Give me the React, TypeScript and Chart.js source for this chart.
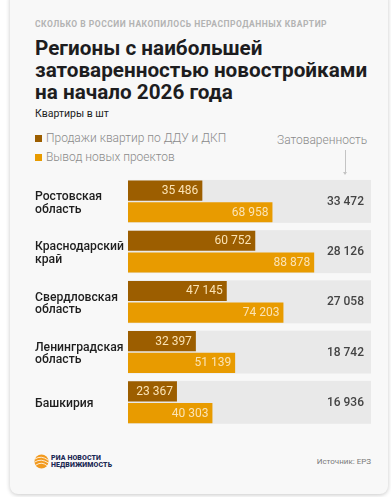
import React, { useEffect, useRef } from "react";
import { Chart, registerables } from "chart.js";

Chart.register(...registerables);

const regions: string[][] = [
  ["Ростовская", "область"],
  ["Краснодарский", "край"],
  ["Свердловская", "область"],
  ["Ленинградская", "область"],
  ["Башкирия"],
];
const sales: number[] = [35486, 60752, 47145, 32397, 23367];
const newProjects: number[] = [68958, 88878, 74203, 51139, 40303];
const overstock: number[] = [33472, 28126, 27058, 18742, 16936];

const seriesNames = ["Продажи квартир по ДДУ и ДКП", "Вывод новых проектов"];
const DARK = "#9c5e00";
const ORANGE = "#e89b00";
const FONT = "Roboto, 'Noto Sans', sans-serif";

const fmt = (v: number) => String(v).replace(/\B(?=(\d{3})+(?!\d))/g, "\u00a0");

const overlayPlugin = {
  id: "overlay",
  beforeDatasetsDraw(chart: any) {
    const { ctx, chartArea } = chart;
    const m0 = chart.getDatasetMeta(0);
    const m1 = chart.getDatasetMeta(1);
    ctx.save();
    ctx.fillStyle = "#e9e9e9";
    m0.data.forEach((bar: any, i: number) => {
      const b1 = m1.data[i];
      const top = bar.y - bar.height / 2 - 0.5;
      const bottom = b1.y + b1.height / 2 + 0.5;
      ctx.fillRect(chartArea.left, top, chartArea.right - chartArea.left, bottom - top);
    });
    ctx.restore();
  },
  afterDatasetsDraw(chart: any) {
    const { ctx, chartArea } = chart;
    ctx.save();
    ctx.textBaseline = "middle";
    [0, 1].forEach((d) => {
      const meta = chart.getDatasetMeta(d);
      const vals = chart.data.datasets[d].data as number[];
      meta.data.forEach((bar: any, i: number) => {
        ctx.font = `400 12px ${FONT}`;
        ctx.fillStyle = "#fbe3b4";
        ctx.textAlign = "right";
        ctx.fillText(fmt(vals[i]), bar.x - 4, bar.y + 0.5);
      });
    });
    const m0 = chart.getDatasetMeta(0);
    const m1 = chart.getDatasetMeta(1);
    overstock.forEach((v, i) => {
      const y = (m0.data[i].y + m1.data[i].y) / 2;
      ctx.font = `500 12px ${FONT}`;
      ctx.fillStyle = "#444444";
      ctx.textAlign = "right";
      ctx.fillText(fmt(v), chartArea.right - 7, y + 0.5);
    });
    ctx.restore();
  },
};

function BarChart() {
  const ref = useRef<HTMLCanvasElement | null>(null);
  useEffect(() => {
    if (!ref.current) return;
    const chart = new Chart(ref.current, {
      type: "bar",
      data: {
        labels: regions,
        datasets: [
          {
            label: seriesNames[0],
            data: sales,
            backgroundColor: DARK,
            categoryPercentage: 0.865,
            barPercentage: 0.93,
          },
          {
            label: seriesNames[1],
            data: newProjects,
            backgroundColor: ORANGE,
            categoryPercentage: 0.865,
            barPercentage: 0.93,
          },
        ],
      },
      options: {
        indexAxis: "y",
        responsive: false,
        animation: false,
        layout: { padding: { left: 25, right: 17, top: 5.5, bottom: 4.5 } },
        plugins: { legend: { display: false }, tooltip: { enabled: false } },
        scales: {
          x: { display: false, min: 0, max: 116000 },
          y: {
            grid: { display: false },
            border: { display: false },
            afterFit: (scale: any) => {
              scale.width = 93;
            },
            ticks: {
              crossAlign: "far",
              padding: 0,
              labelOffset: 2,
              color: "#1e1e1e",
              font: { family: FONT, size: 12.2, weight: "500", lineHeight: 1.03 },
            },
          },
        },
      },
      plugins: [overlayPlugin],
    } as any);
    return () => chart.destroy();
  }, []);
  return (
    <canvas
      ref={ref}
      width={378}
      height={270}
      style={{ position: "absolute", left: 10, top: 170, width: 378, height: 270 }}
    />
  );
}

export default function App() {
  const abs = (o: any) => ({ position: "absolute" as const, whiteSpace: "nowrap" as const, fontFamily: FONT, ...o });
  return (
    <div style={{ position: "fixed", left: 0, top: 0, width: 391, height: 497, background: "#ffffff", overflow: "hidden" }}>
      <div
        style={{
          position: "absolute",
          left: 10,
          top: -10,
          width: 378,
          height: 504,
          background: "#f8f8f8",
          borderRadius: 8,
          boxShadow: "0 1px 4px rgba(0,0,0,0.22)",
        }}
      />
      <div style={abs({ left: 35, top: 19, fontSize: 8.5, fontWeight: 700, color: "#b3b3b3", letterSpacing: 0.5, lineHeight: "10px" })}>
        СКОЛЬКО В РОССИИ НАКОПИЛОСЬ НЕРАСПРОДАННЫХ КВАРТИР
      </div>
      <div style={abs({ left: 35, top: 37, fontSize: 20.7, fontWeight: 700, color: "#1d1d1f", lineHeight: "22px" })}>
        Регионы с наибольшей
        <br />
        затоваренностью новостройками
        <br />
        на начало 2026 года
      </div>
      <div style={abs({ left: 35, top: 108, fontSize: 10.5, color: "#222", lineHeight: "12px" })}>Квартиры в шт</div>
      <div style={abs({ left: 35, top: 135, width: 7, height: 7, background: DARK })} />
      <div style={abs({ left: 46, top: 131, fontSize: 12, fontWeight: 300, color: "#8a8a8a", lineHeight: "14px" })}>{seriesNames[0]}</div>
      <div style={abs({ left: 35, top: 154, width: 7, height: 7, background: ORANGE })} />
      <div style={abs({ left: 46, top: 150, fontSize: 12, fontWeight: 300, color: "#8a8a8a", lineHeight: "14px" })}>{seriesNames[1]}</div>
      <div style={abs({ left: 277, top: 133, fontSize: 12, fontWeight: 300, color: "#8a8a8a", lineHeight: "14px" })}>Затоваренность</div>
      <div style={abs({ left: 345, top: 150, width: 1, height: 24, background: "#c4c4c4" })} />
      <div style={abs({ left: 343, top: 172, width: 0, height: 0, borderLeft: "2.5px solid transparent", borderRight: "2.5px solid transparent", borderTop: "3px solid #c4c4c4" })} />
      <BarChart />
      <svg style={{ position: "absolute", left: 34, top: 454 }} width={15} height={15} viewBox="0 0 15 15">
        <circle cx="7.5" cy="7.5" r="7" fill="#f29a1f" />
        <path d="M1 5 Q7 1 14 6" stroke="#fff" strokeWidth="0.8" fill="none" />
        <path d="M0.8 8 Q7 4 14.5 9" stroke="#fff" strokeWidth="0.8" fill="none" />
        <path d="M2 11 Q8 7 13.5 12" stroke="#fff" strokeWidth="0.8" fill="none" />
      </svg>
      <div style={abs({ left: 51, top: 455, fontSize: 7, fontWeight: 900, color: "#1c2a55", lineHeight: "6.5px", letterSpacing: 0.1 })}>
        РИА НОВОСТИ
        <br />
        НЕДВИЖИМОСТЬ
      </div>
      <div style={abs({ right: 20, top: 457, fontSize: 8, color: "#7a7a7a", lineHeight: "10px" })}>Источник: ЕРЗ</div>
    </div>
  );
}
